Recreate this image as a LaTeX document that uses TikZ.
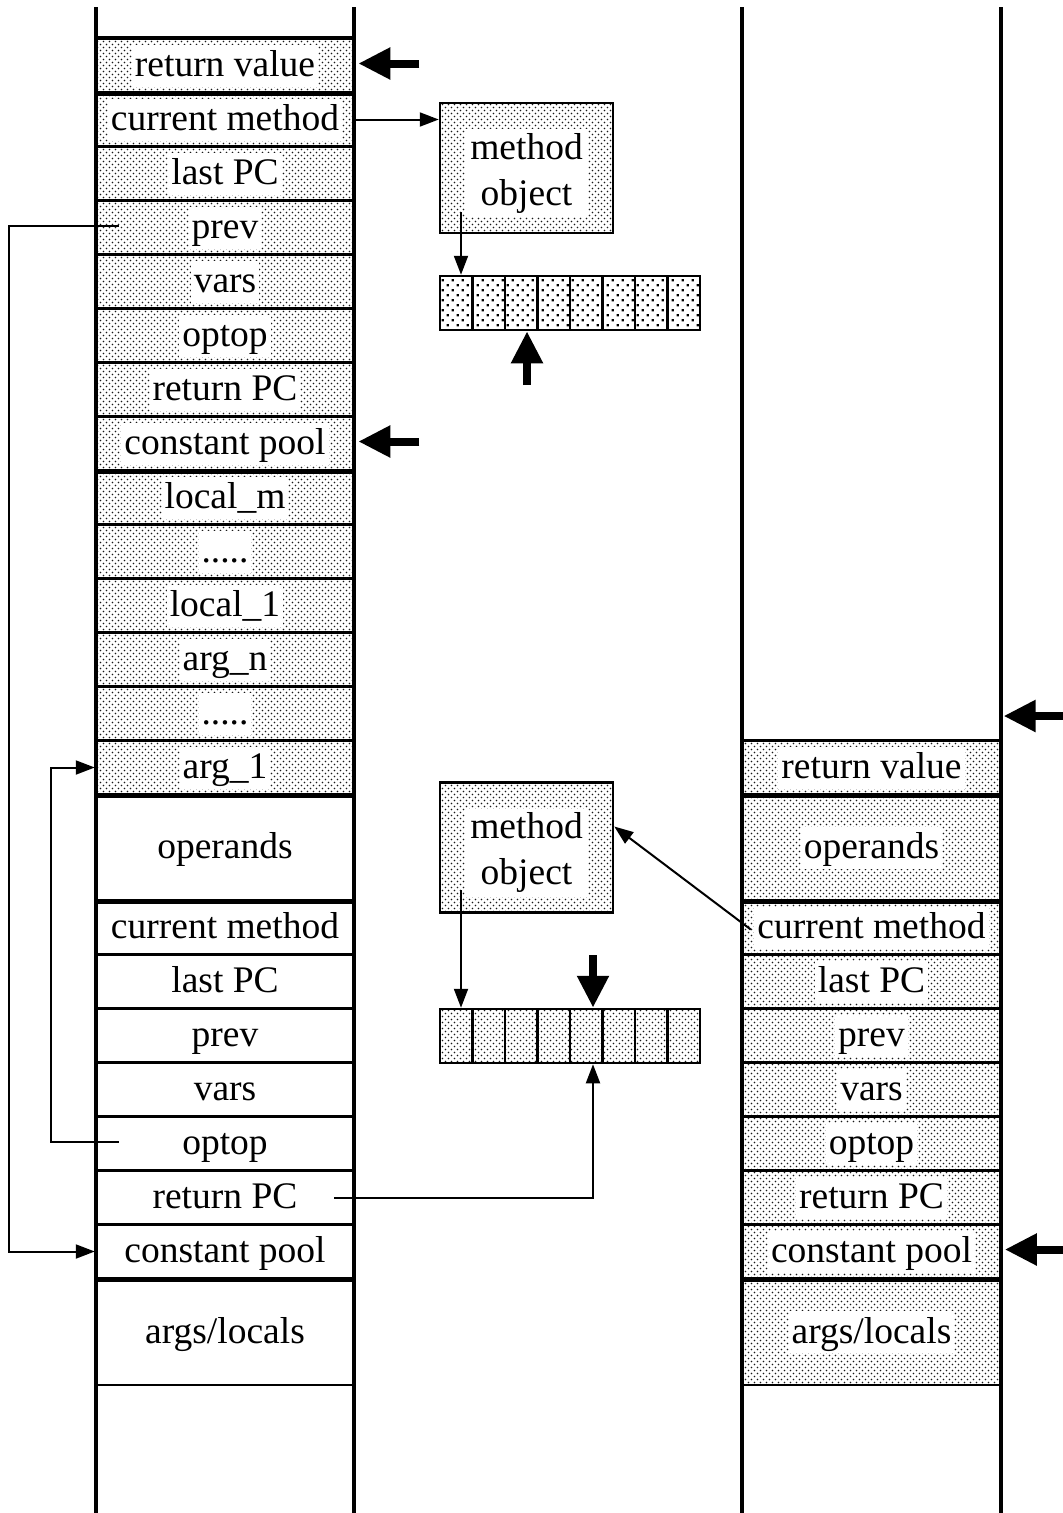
\documentclass[tikz,border=0pt]{standalone}
\usepackage{fontspec}
\setmainfont{Liberation Serif}
\usetikzlibrary{arrows.meta,patterns,calc}

% fine stipple used for the shaded stack slots
\pgfdeclarepatternformonly{stipple}{\pgfpoint{-1pt}{-1pt}}{\pgfpoint{7pt}{7pt}}{\pgfpoint{6pt}{6pt}}{%
  \pgfpathcircle{\pgfpoint{1.5pt}{1.5pt}}{0.85pt}%
  \pgfpathcircle{\pgfpoint{4.5pt}{4.5pt}}{0.85pt}%
  \pgfusepath{fill}}
% coarser square dots for the upper bytecode array
\pgfdeclarepatternformonly{coarsedots}{\pgfpoint{-1pt}{-1pt}}{\pgfpoint{11pt}{11pt}}{\pgfpoint{10pt}{10pt}}{%
  \pgfpathrectangle{\pgfpoint{1.5pt}{1.5pt}}{\pgfpoint{2.4pt}{2.4pt}}%
  \pgfpathrectangle{\pgfpoint{6.5pt}{6.5pt}}{\pgfpoint{2.4pt}{2.4pt}}%
  \pgfusepath{fill}}

\begin{document}
\begin{tikzpicture}[
  x=1pt, y=-1pt,
  every node/.style={font=\fontsize{37.5}{46}\selectfont},
  frame/.style={draw, line width=2.5pt, inner sep=0pt, minimum width=258pt, minimum height=54pt},
  dotcell/.style={frame, pattern=stipple, pattern color=black!90},
  plaincell/.style={frame, fill=white, text height=29pt, text depth=7pt},
  tallcell/.style={minimum height=106pt},
  widecell/.style={minimum width=259pt},
  slottxt/.style={fill=white, inner xsep=3pt, inner ysep=3pt, text height=29pt, text depth=7pt},
  mobox/.style={draw, line width=2.5pt, minimum width=173pt, minimum height=130pt, pattern=stipple, pattern color=black!90},
  motxt/.style={fill=white, align=center, inner xsep=5pt, inner ysep=4pt},
  acell/.style={draw, line width=2.5pt, minimum width=32.5pt, minimum height=54pt, inner sep=0pt},
  septhick/.style={line width=5pt},
  column/.style={line width=4pt},
  link/.style={line width=2pt, -{Triangle[length=19pt,width=14pt]}},
  pointer/.style={line width=8pt, -{Triangle[length=32pt,width=30pt]}},
]
\useasboundingbox (0,0) rectangle (1063,1513);

% ---------- left stack: callee frame (shaded) ----------
\node[dotcell] (rvA) at (225,65.5) {};   \node[slottxt] at (rvA) {return value};
\node[dotcell] (cmA) at (225,119.5) {};  \node[slottxt] at (cmA) {current method};
\node[dotcell] (lpA) at (225,173.5) {};  \node[slottxt] at (lpA) {last PC};
\node[dotcell] (pvA) at (225,227.5) {};  \node[slottxt] at (pvA) {prev};
\node[dotcell] (vrA) at (225,281.5) {};  \node[slottxt] at (vrA) {vars};
\node[dotcell] (opA) at (225,335.5) {};  \node[slottxt] at (opA) {optop};
\node[dotcell] (rpA) at (225,389.5) {};  \node[slottxt] at (rpA) {return PC};
\node[dotcell] (cpA) at (225,443.5) {};  \node[slottxt] at (cpA) {constant pool};
\node[dotcell] (lmA) at (225,497.5) {};  \node[slottxt] at (lmA) {local\_m};
\node[dotcell] (d1A) at (225,551.5) {};  \node[slottxt] at (d1A) {.....};
\node[dotcell] (l1A) at (225,605.5) {};  \node[slottxt] at (l1A) {local\_1};
\node[dotcell] (anA) at (225,659.5) {};  \node[slottxt] at (anA) {arg\_n};
\node[dotcell] (d2A) at (225,713.5) {};  \node[slottxt] at (d2A) {.....};
\node[dotcell] (a1A) at (225,767.5) {};  \node[slottxt] at (a1A) {arg\_1};

% ---------- left stack: caller frame (plain) ----------
\node[plaincell, tallcell] (onC) at (225,847.5) {operands};
\node[plaincell] (cmC) at (225,927.5) {current method};
\node[plaincell] (lpC) at (225,981.5) {last PC};
\node[plaincell] (pvC) at (225,1035.5) {prev};
\node[plaincell] (vrC) at (225,1089.5) {vars};
\node[plaincell] (opC) at (225,1143.5) {optop};
\node[plaincell] (rpC) at (225,1197.5) {return PC};
\node[plaincell] (cpC) at (225,1251.5) {constant pool};
\node[plaincell, tallcell] (alC) at (225,1332) {args/locals};

% ---------- right stack ----------
\node[dotcell, widecell] (rvB) at (871.5,767.5) {};  \node[slottxt] at (rvB) {return value};
\node[dotcell, widecell, tallcell] (onB) at (871.5,847.5) {}; \node[slottxt] at (onB) {operands};
\node[dotcell, widecell] (cmB) at (871.5,927.5) {};  \node[slottxt] at (cmB) {current method};
\node[dotcell, widecell] (lpB) at (871.5,981.5) {};  \node[slottxt] at (lpB) {last PC};
\node[dotcell, widecell] (pvB) at (871.5,1035.5) {}; \node[slottxt] at (pvB) {prev};
\node[dotcell, widecell] (vrB) at (871.5,1089.5) {}; \node[slottxt] at (vrB) {vars};
\node[dotcell, widecell] (opB) at (871.5,1143.5) {}; \node[slottxt] at (opB) {optop};
\node[dotcell, widecell] (rpB) at (871.5,1197.5) {}; \node[slottxt] at (rpB) {return PC};
\node[dotcell, widecell] (cpB) at (871.5,1251.5) {}; \node[slottxt] at (cpB) {constant pool};
\node[dotcell, widecell, tallcell] (alB) at (871.5,1332) {}; \node[slottxt] at (alB) {args/locals};

% ---------- frame boundaries ----------
\draw[line width=3.5pt] (rvA.north west) -- (rvA.north east);
\draw[septhick] (rvA.south west) -- (rvA.south east);
\draw[septhick] (cpA.south west) -- (cpA.south east);
\draw[septhick] (a1A.south west) -- (a1A.south east);
\draw[septhick] (onC.south west) -- (onC.south east);
\draw[septhick] (cpC.south west) -- (cpC.south east);
\draw[line width=4pt] (rvB.south west) -- (rvB.south east);
\draw[septhick] (onB.south west) -- (onB.south east);
\draw[septhick] (cpB.south west) -- (cpB.south east);

% ---------- stack walls ----------
\draw[column] (96,7) -- (96,1513);
\draw[column] (354,7) -- (354,1513);
\draw[column] (742,7) -- (742,1513);
\draw[column] (1001,7) -- (1001,1513);

% ---------- method objects and bytecode arrays ----------
\node[mobox] (umo) at (526.5,168) {};
\node[motxt] at ([yshift=-5pt]umo.center) {method\\object};
\foreach \k in {1,...,8}
  \node[acell, pattern=coarsedots] (ua\k) at ({440+32.5*\k-16.25},303) {};

\node[mobox] (lmo) at (526.5,847.5) {};
\node[motxt] at ([yshift=-5pt]lmo.center) {method\\object};
\foreach \k in {1,...,8}
  \node[acell, pattern=stipple, pattern color=black!90] (la\k) at ({440+32.5*\k-16.25},1036) {};

% ---------- links ----------
\coordinate (umoTail) at (461,212);
\coordinate (lmoTail) at (461,890);
\coordinate (upTail) at (527,385);
\coordinate (downTail) at (593,955);
\coordinate (topFree) at (1063,716);
\coordinate (topSlot) at (1003.5,716);

\draw[link] (cmA.east) -- (cmA.east -| umo.west);
\draw[link] (umoTail) -- (umoTail |- ua1.north);
\draw[pointer] (upTail) -- (upTail |- ua3.south);

\draw[link] (lmoTail) -- (lmoTail |- la1.north);
\draw[pointer] (downTail) -- (downTail |- la5.north);
\draw[link] ([xshift=-21pt]rpC.east) -| (downTail |- la5.south);
\draw[link] ([xshift=10pt,yshift=-2pt]cmB.west) -- ([yshift=21pt]lmo.east);

\draw[link] ([xshift=24pt,yshift=2pt]pvA.west) -- ++(-110,0) |- (cpC.west);
\draw[link] ([xshift=24pt,yshift=2pt]opC.west) -- ++(-68,0) |- (a1A.west);

% ---------- register pointers ----------
\draw[pointer] ([xshift=64pt,yshift=2pt]rvA.east) -- ([xshift=3pt,yshift=2pt]rvA.east);
\draw[pointer] ([xshift=64pt,yshift=2pt]cpA.east) -- ([xshift=3pt,yshift=2pt]cpA.east);
\draw[pointer] (topFree) -- (topSlot);
\draw[pointer] ([xshift=62pt,yshift=2pt]cpB.east) -- ([xshift=2.5pt,yshift=2pt]cpB.east);
\end{tikzpicture}
\end{document}
